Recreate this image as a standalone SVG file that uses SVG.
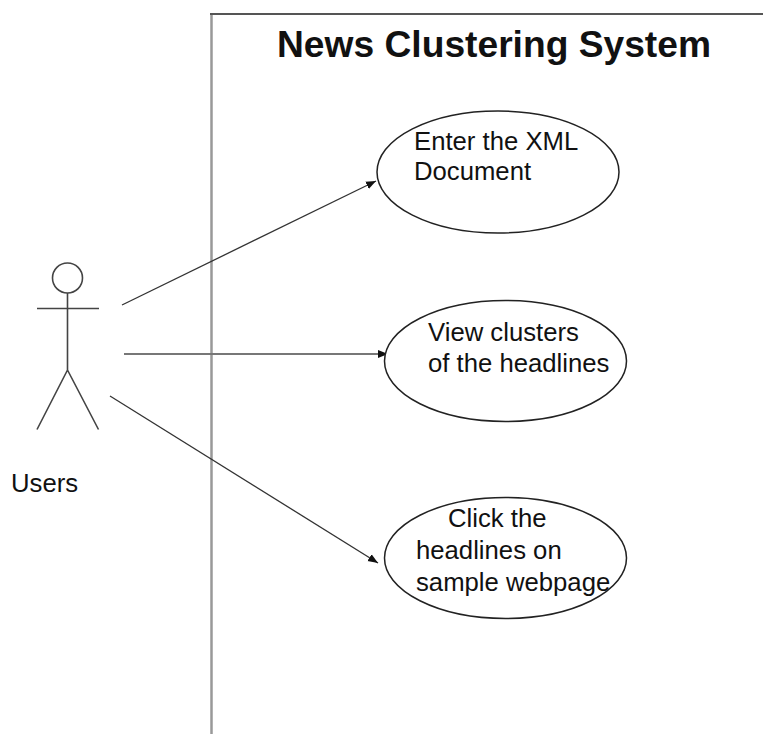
<svg xmlns="http://www.w3.org/2000/svg" width="763" height="734" viewBox="0 0 763 734">
<style>
.l{fill:none;stroke:#333;stroke-width:1.3}
.a{fill:none;stroke:#444;stroke-width:1.6}
.e{fill:#fff;stroke:#222;stroke-width:1.5}
.t{font-family:"Liberation Sans",Arial,sans-serif;font-size:25.700px;fill:#111}
</style>
<defs><marker id="a" markerUnits="userSpaceOnUse" markerWidth="11" markerHeight="9" refX="10" refY="4.500" orient="auto"><path d="M0 0.500L10 4.500L0 8.500Z" fill="#111"/></marker></defs>
<rect width="763" height="734" fill="#fff"/>
<g id="boundary"><path d="M211.500 734V14" fill="none" stroke="#999" stroke-width="2.500"/><path d="M210 14H763" fill="none" stroke="#555" stroke-width="2"/></g>
<text x="277" y="57" font-family="Liberation Sans,Arial,sans-serif" font-size="37.200" font-weight="700" fill="#111">News Clustering System</text>
<g id="connectors">
<path class="l" d="M122 305L376 181" marker-end="url(#a)"/>
<path d="M124 354H388" fill="none" stroke="#777" stroke-width="2" marker-end="url(#a)"/>
<path class="l" d="M110 396L378 563" marker-end="url(#a)"/>
</g>
<g id="actor"><circle class="a" cx="67.500" cy="278" r="15"/><path class="a" d="M67.500 293V370M37 308.500H99M67.500 370L37 429.500M67.500 370L98.500 429.500"/><text class="t" x="11" y="492">Users</text></g>
<g id="uc1"><ellipse class="e" cx="498" cy="172" rx="121" ry="61"/><text class="t" x="414" y="150">Enter the XML</text><text class="t" x="414" y="180">Document</text></g>
<g id="uc2"><ellipse class="e" cx="505.500" cy="361" rx="121" ry="60.500"/><text class="t" x="428" y="341">View clusters</text><text class="t" x="428" y="372">of the headlines</text></g>
<g id="uc3"><ellipse class="e" cx="505.500" cy="558" rx="121" ry="60.500"/><text class="t" x="448" y="527">Click the</text><text class="t" x="416" y="559">headlines on</text><text class="t" x="416" y="591">sample webpage</text></g>
</svg>
